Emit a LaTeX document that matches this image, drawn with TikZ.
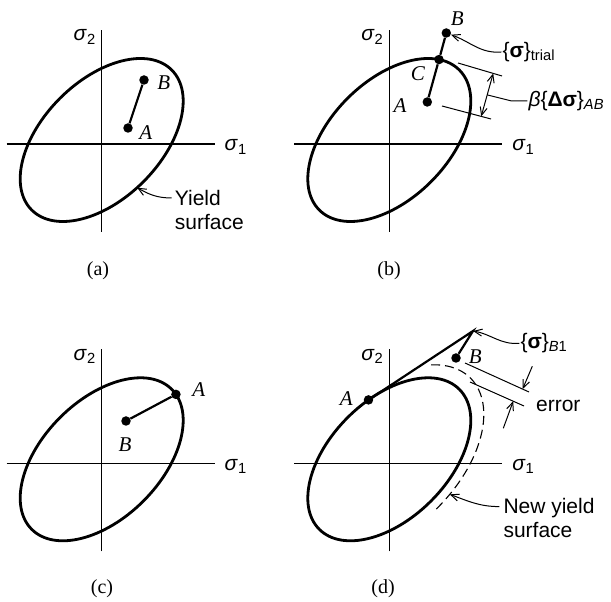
\documentclass[tikz,border=0pt]{standalone}
\usepackage{fontspec}
\setmainfont{Liberation Serif}
\setsansfont{Liberation Sans}
\usetikzlibrary{arrows.meta,calc}

% axes, axis labels and yield surface of one panel
\newcommand{\stressplane}[1]{%
  \draw[axis] (-95,0) -- (113,0);
  \draw[axis] (0,-88) -- (0,114);
  \node[axlbl] (#1s1) at (134,-3) {\textit{σ}\textsubscript{1}};
  \node[axlbl] (#1s2) at (-17,107) {\textit{σ}\textsubscript{2}};
  \begin{scope}[shift={(0,4)},rotate=45]
    \draw[surf] (0,0) ellipse [x radius=99, y radius=59];
  \end{scope}}

\begin{document}
\begin{tikzpicture}[
  x=1pt, y=1pt,
  axis/.style={line width=1.2pt},
  surf/.style={line width=2.8pt},
  newsurf/.style={line width=1.1pt, dash pattern=on 9pt off 5pt},
  seg/.style={line width=2.2pt},
  dot/.style={circle, fill, inner sep=0pt, minimum size=9.5pt},
  pt/.style={font=\fontsize{21}{23}\selectfont\itshape, inner sep=1pt},
  axlbl/.style={font=\fontsize{21}{23}\selectfont\sffamily, inner sep=1pt},
  note/.style={font=\fontsize{21}{24}\selectfont\sffamily, inner sep=1pt, align=left},
  caplbl/.style={font=\fontsize{20}{22}\selectfont, inner sep=1pt},
  dim/.style={line width=1pt},
  lead/.style={line width=1pt, -{Straight Barb[length=8pt, width=7pt]}},
  dimarr/.style={line width=1pt, {Straight Barb[length=8pt, width=7pt]}-{Straight Barb[length=8pt, width=7pt]}}
]
\useasboundingbox (0,0) rectangle (611,602);

% (a)
\begin{scope}[shift={(101.7,458)}]
  \stressplane{a}
  \begin{scope}[shift={(0,4)},rotate=45]
    \coordinate (aY) at ({99*cos(-95)},{59*sin(-95)});
  \end{scope}
  \node[dot] (aA) at (26.3,16) {};
  \node[dot] (aB) at (42.3,64) {};
  \draw[seg] (aA) -- (aB);
  \node[pt] (aAl) at (44,11) {A};
  \node[pt] (aBl) at (62,61) {B};
  \node[note, anchor=west] (aYs) at (72,-66) {Yield\\surface};
  \coordinate (aYl) at (70,-54);
  \draw[lead] (aYl) to[out=180, in=-30] (aY);
\end{scope}

% (b)
\begin{scope}[shift={(389.3,458)}]
  \stressplane{b}
  \begin{scope}[shift={(0,4)},rotate=45]
    \coordinate (bC) at ({99*cos(21.6)},{59*sin(21.6)});
  \end{scope}
  \node[dot] (bA) at (38,42) {};
  \node[dot] (bCd) at (bC) {};
  \node[dot] (bB) at (57,111) {};
  \draw[seg] (bA) -- (bCd) -- (bB);
  \node[pt] (bAl) at (10.7,38) {A};
  \node[pt] (bCl) at (28.7,70) {C};
  \node[pt] (bBl) at (68,125) {B};
  \node[note, anchor=west] (bTr) at (112,92) {\{\textbf{σ}\}\textsubscript{trial}};
  \draw[lead] (bTr.west) to[out=185, in=-20] (bB);
  \coordinate (bE1) at (68.7,81);
  \coordinate (bE2) at (112.7,68);
  \coordinate (bE3) at (52.7,38);
  \coordinate (bE4) at (101.7,25);
  \draw[dim] (bE1) -- (bE2);
  \draw[dim] (bE3) -- (bE4);
  \coordinate (bD1) at ($(bE1)!0.8!(bE2)$);
  \coordinate (bD2) at ($(bE3)!0.8!(bE4)$);
  \draw[dimarr] (bD1) -- (bD2);
  \coordinate (bDm) at ($(bD1)!0.5!(bD2)$);
  \node[note, anchor=west] (bDel) at (138,43) {\textit{β}\{\textbf{Δσ}\}\textsubscript{\textit{AB}}};
  \draw[dim] (bDm) -- ++(24,-6) -- (bDel.west);
\end{scope}

% (c)
\begin{scope}[shift={(101.7,138.7)}]
  \stressplane{c}
  \begin{scope}[shift={(0,4)},rotate=45]
    \coordinate (cA) at ({99*cos(-6.4)},{59*sin(-6.4)});
  \end{scope}
  \node[dot] (cAd) at (cA) {};
  \node[dot] (cB) at (24.3,42.3) {};
  \draw[seg] (cB) -- (cAd);
  \node[pt] (cAl) at (97,74) {A};
  \node[pt] (cBl) at (23.3,19) {B};
\end{scope}

% (d)
\begin{scope}[shift={(389.3,138.7)}]
  \stressplane{d}
  \begin{scope}[shift={(0,4)},rotate=45]
    \coordinate (dA) at ({99*cos(74)},{59*sin(74)});
    \coordinate (dN) at ({114.8*cos(-81)},{68.4*sin(-81)});
    \draw[newsurf] ({114.8*cos(33)},{68.4*sin(33)})
      arc[start angle=33, end angle=-92, x radius=114.8, y radius=68.4];
  \end{scope}
  \node[dot] (dAd) at (dA) {};
  \coordinate (dP) at (83.7,132.3);
  \node[dot] (dB) at (66.7,105.3) {};
  \draw[seg] (dAd) -- (dP) -- (dB);
  \node[pt] (dAl) at (-43,65) {A};
  \node[pt] (dBl) at (86,107) {B};
  \node[note, anchor=west] (dB1) at (130,120) {\{\textbf{σ}\}\textsubscript{\textit{B}1}};
  \draw[lead] (dB1.west) to[out=185, in=-10] (dP);
  \coordinate (dE1) at (75.7,100.3);
  \coordinate (dE2) at (139.7,71.3);
  \coordinate (dE3) at (80.7,81.3);
  \coordinate (dE4) at (134.7,57.3);
  \draw[dim] (dE1) -- (dE2);
  \draw[dim] (dE3) -- (dE4);
  \coordinate (dF1) at ($(dE1)!0.9!(dE2)$);
  \coordinate (dF1s) at (143,97);
  \coordinate (dF2) at ($(dE3)!0.8!(dE4)$);
  \coordinate (dF2s) at (114,35);
  \draw[lead] (dF1s) -- (dF1);
  \draw[lead] (dF2s) -- (dF2);
  \node[note] (dErr) at (169,57) {error};
  \node[note, anchor=west] (dNew) at (113,-55) {New yield\\surface};
  \coordinate (dNl) at (110,-43.3);
  \draw[lead] (dNl) to[out=180, in=-20] (dN);
\end{scope}

% captions
\node[caplbl] (capa) at (98,331) {(a)};
\node[caplbl] (capb) at (389,331) {(b)};
\node[caplbl] (capc) at (102,13) {(c)};
\node[caplbl] (capd) at (383,13) {(d)};
\end{tikzpicture}
\end{document}
